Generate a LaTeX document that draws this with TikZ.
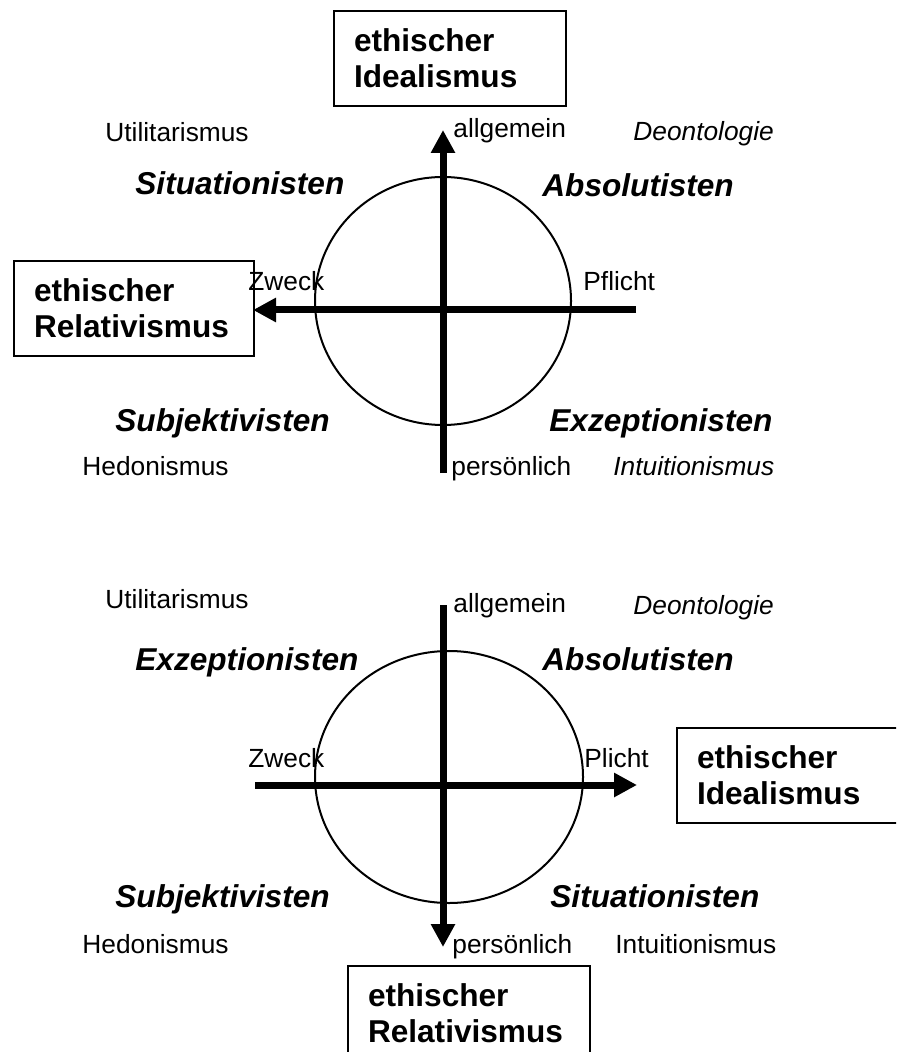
\documentclass[tikz,border=0pt]{standalone}
\usepackage{fontspec}
\setmainfont{Liberation Sans}
\usetikzlibrary{arrows.meta,shapes.geometric}

\begin{document}
\begin{tikzpicture}[
	x=0.5pt,
	y=-0.5pt,
	axis/.style={
		-{Triangle[length=11.5pt,width=11.5pt]},
		line width=3.5pt
	},
	ring/.style={
		draw,
		ellipse,
		line width=1pt,
		inner sep=0pt
	},
	pole/.style={
		draw,
		line width=1pt,
		anchor=north west,
		align=left,
		inner xsep=10pt,
		inner ysep=9pt,
		font=\bfseries\fontsize{15.8}{18}\selectfont
	},
	school/.style={
		anchor=base west,
		inner sep=0pt,
		font=\bfseries\itshape\fontsize{15.8}{18}\selectfont
	},
	theory/.style={
		anchor=base west,
		inner sep=0pt,
		font=\fontsize{13.15}{15}\selectfont
	}
	]
	
	\clip (0,0) rectangle (896,1052);
	
	%=====================================================================
	% Upper cross
	%=====================================================================
	
	\node[ring, minimum width=128pt, minimum height=124pt] (ringA)
	at (443,301) {};
	
	\coordinate (upA-top) at (443,130);
	\coordinate (upA-bot) at (443,473);
	\coordinate (upA-left) at (253,310);
	\coordinate (upA-right) at (636,310);
	
	\draw[axis] (upA-bot) -- (upA-top);
	\draw[axis] (upA-right) -- (upA-left);
	
	\node[pole, text width=96pt] (idealA) at (333,10)
	{ethischer\\Idealismus};
	
	\node[pole, text width=100pt] (relatA) at (13,260)
	{ethischer\\Relativismus};
	
	\node[theory] (allgA) at (453,138) {allgemein};
	\node[theory] (zweckA) at (248,291) {Zweck};
	\node[theory] (pflichtA) at (583,291) {Pflicht};
	\node[theory] (persA) at (451,475) {persönlich};
	
	\node[theory] (utilA) at (105,142) {Utilitarismus};
	\node[theory, font=\itshape\fontsize{13.15}{15}\selectfont] (deontA)
	at (633,141) {Deontologie};
	\node[theory] (hedonA) at (82,475) {Hedonismus};
	\node[theory, font=\itshape\fontsize{13.15}{15}\selectfont] (intuA)
	at (613,475) {Intuitionismus};
	
	\node[school] (situA) at (135,195) {Situationisten};
	\node[school] (absolA) at (542,197) {Absolutisten};
	\node[school] (subjA) at (115,432) {Subjektivisten};
	\node[school] (exzA) at (549,432) {Exzeptionisten};
	
	%=====================================================================
	% Lower cross
	%=====================================================================
	
	\node[ring, minimum width=134pt, minimum height=126pt] (ringB)
	at (449,777) {};
	
	\coordinate (upB-top) at (443,605);
	\coordinate (upB-bot) at (443,947);
	\coordinate (upB-left) at (255,785);
	\coordinate (upB-right) at (637,785);
	
	\draw[axis] (upB-top) -- (upB-bot);
	\draw[axis] (upB-left) -- (upB-right);
	
	\node[pole, text width=100pt] (idealB) at (676,727)
	{ethischer\\Idealismus};
	
	\node[pole, text width=101pt] (relatB) at (347,965)
	{ethischer\\Relativismus};
	
	\node[theory] (allgB) at (453,612) {allgemein};
	\node[theory] (zweckB) at (248,767) {Zweck};
	\node[theory] (pflichtB) at (584,767) {Plicht};
	\node[theory] (persB) at (452,953) {persönlich};
	
	\node[theory] (utilB) at (105,608) {Utilitarismus};
	\node[theory, font=\itshape\fontsize{13.15}{15}\selectfont] (deontB)
	at (633,614) {Deontologie};
	\node[theory] (hedonB) at (82,953) {Hedonismus};
	\node[theory] (intuB) at (615,953) {Intuitionismus};
	
	\node[school] (exzB) at (135,670) {Exzeptionisten};
	\node[school] (absolB) at (542,670) {Absolutisten};
	\node[school] (subjB) at (115,907) {Subjektivisten};
	\node[school] (situB) at (550,907) {Situationisten};
	
\end{tikzpicture}
\end{document}
